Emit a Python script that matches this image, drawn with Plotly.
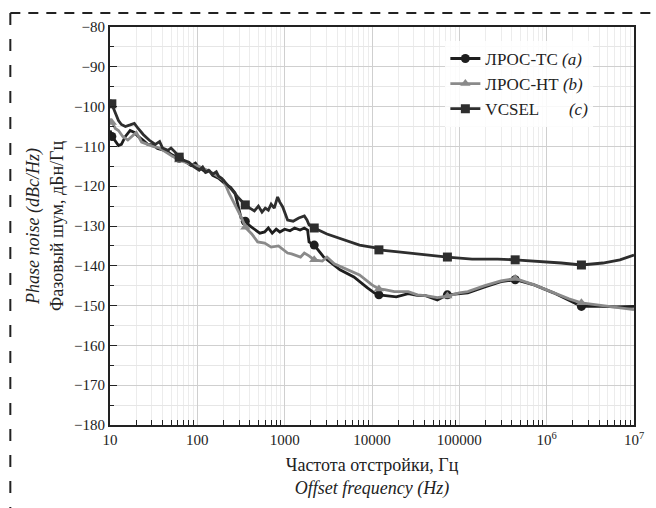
import plotly.graph_objects as go

# ---------------- data ----------------
f_c = [10, 10.5, 11.4, 12.5, 13.5, 15, 17, 19, 21, 24, 28, 33, 37, 40, 46, 50, 56, 62, 70, 80, 90,
       105, 115, 124, 135, 150, 165, 175, 190, 210, 250, 290, 330, 354, 400, 450, 500, 550, 600,
       650, 700, 760, 830, 880, 950, 1080, 1250, 1450, 1680, 1800, 1900, 2180, 3050, 4700, 7200,
       11000, 12000, 20000, 41000, 73000, 140000, 275000, 436000, 790000, 1470000, 2500000,
       4400000, 6900000, 10000000]
db_c = [-98.3, -99.5, -101.5, -103.5, -104.5, -105.0, -104.6, -104.2, -105.5, -107, -108.4, -109.5,
        -108.8, -110.4, -111, -110.4, -111.5, -112.7, -113.5, -114, -115, -116, -115.2, -116.5,
        -116, -117, -116.4, -117.5, -118, -119.2, -121, -122.7, -124, -124.7, -125.5, -126.2, -125,
        -126.5, -125.5, -126, -124.5, -125.5, -122.7, -124, -125.2, -128.5, -128.8, -128, -127.5,
        -128.5, -129.7, -130.5, -132, -133.5, -134.8, -135.5, -136, -136.5, -137.3, -137.8, -138.3,
        -138.3, -138.5, -138.8, -139.3, -139.8, -139.3, -138.5, -137.3]

f_a = [10, 11, 12.5, 13.5, 15, 17, 19, 21, 24, 27, 31, 35, 40, 44, 50, 56, 62, 67, 75, 85, 95, 104,
       115, 125, 138, 150, 175, 210, 240, 270, 317, 354, 400, 455, 520, 590, 650, 720, 800, 880,
       1000, 1150, 1300, 1500, 1680, 1830, 1900, 2180, 2800, 4300, 6200, 8800, 10600, 12000, 15000,
       19000, 26000, 33000, 41000, 56000, 73000, 100000, 125000, 196000, 300000, 436000, 720000,
       1200000, 1800000, 2500000, 4200000, 6300000, 10000000]
db_a = [-106, -108, -109.8, -109.5, -107.5, -106, -106.5, -107.5, -108.5, -109.5, -109.6, -110.5,
        -110.9, -111, -112, -112.5, -113, -113.4, -114, -114.8, -114.2, -115.4, -115.9, -116.5,
        -116.2, -117.3, -118, -119.5, -120.3, -121.7, -128, -128.8, -130, -131, -131.8, -131.5,
        -130.5, -131.8, -130.8, -131.5, -130.8, -131.2, -130.5, -131, -130.5, -131, -134, -134.8,
        -137.8, -141, -142.8, -145.5, -146.8, -147.3, -147.5, -147.8, -147, -147.4, -147.5,
        -148.6, -147.3, -147, -146.8, -145.3, -144, -143.5, -144.8, -146.8, -148.6, -150.2, -150.2,
        -150.3, -150.2]

f_b = [10, 10.5, 11.5, 12.5, 14, 16, 18, 20, 23, 27, 31, 37, 44, 52, 62, 72, 85, 104, 130, 162,
       200, 230, 317, 360, 420, 490, 590, 700, 850, 1080, 1200, 1520, 1680, 1900, 2180, 2700, 3050,
       3700, 4700, 7200, 10000, 12000, 14000, 18000, 26000, 33000, 41000, 56000, 73000, 100000,
       125000, 196000, 300000, 436000, 720000, 1200000, 1800000, 2500000, 4200000, 6300000, 10000000]
db_b = [-103, -104, -105.5, -106, -107.5, -108.4, -107.5, -106.5, -108.9, -109.5, -110, -110.4,
        -111.5, -112.5, -113.4, -114, -114.5, -115, -116, -117.2, -118.5, -121.7, -127.7, -130.5,
        -132, -134, -134.3, -135.3, -135, -136.8, -137, -137.8, -136.8, -137.5, -138.5, -138.8,
        -137.8, -139.5, -140.5, -142.3, -144.8, -145.8, -146, -146.5, -146.5, -147.3, -147.5, -148,
        -147.6, -146.8, -146.5, -145, -143.8, -143.2, -144.8, -146.8, -148.3, -149.3, -149.9,
        -150.3, -151]

# marker positions
mk_f = [10.5, 62, 354, 2180, 12000, 73000, 436000, 2500000]
mk_c = [-99.3, -112.7, -124.7, -130.5, -136, -137.8, -138.5, -139.8]
mk_a = [-107.5, -113, -128.8, -134.8, -147.3, -147.3, -143.5, -150.2]
mk_b = [-104, -113.4, -130.3, -138.5, -145.8, -147.6, -143.2, -149.3]

names = ["ЛРОС-ТС <i>(a)</i>", "ЛРОС-НТ <i>(b)</i>",
         "VCSEL\u00a0\u00a0\u00a0\u00a0\u00a0\u00a0\u00a0<i>(c)</i>"]
colors = ["#1e1e1e", "#8a8a8a", "#2e2e2e"]
symbols = ["circle", "triangle-up", "square"]

x_ticks = [10, 100, 1000, 10000, 100000, 1e6, 1e7]
x_ticktext = ["10", "100", "1000", "10000", "100000", "10<sup>6</sup>", "10<sup>7</sup>"]

FONT = '"Liberation Serif", "Times New Roman", Times, serif'

fig = go.Figure()
series = [(f_a, db_a, mk_a), (f_b, db_b, mk_b), (f_c, db_c, mk_c)]
for (fx, fy, mky), nm, col, sym in zip(series, names, colors, symbols):
    fig.add_trace(go.Scatter(x=fx, y=fy, mode="lines", line=dict(color=col, width=2.8),
                             showlegend=False, hoverinfo="skip"))
    fig.add_trace(go.Scatter(x=mk_f, y=mky, mode="markers",
                             marker=dict(symbol=sym, size=9, color=col), showlegend=False))
    fig.add_trace(go.Scatter(x=[None], y=[None], mode="lines+markers", name=nm,
                             line=dict(color=col, width=2.8),
                             marker=dict(symbol=sym, size=9, color=col)))

minor_x = [m * 10 ** e for e in range(1, 7) for m in range(2, 10)]

fig.update_layout(
    width=656, height=508,
    margin=dict(l=110, r=15, t=27, b=83),
    paper_bgcolor="white", plot_bgcolor="white",
    font=dict(family=FONT, size=15, color="#222"),
    legend=dict(x=0.64, y=0.965, xanchor="left", yanchor="top",
                bgcolor="rgba(255,255,255,0.85)", font=dict(size=17, family=FONT),
                tracegroupgap=0, itemwidth=30),
    xaxis=dict(type="log", range=[1, 7], tickvals=x_ticks, ticktext=x_ticktext,
               showline=True, linecolor="#222", linewidth=2, mirror=True,
               ticks="", showgrid=True, gridcolor="#cfcfcf", gridwidth=1,
               minor=dict(tickvals=minor_x, ticks="inside", ticklen=5, tickcolor="#222",
                          showgrid=True, gridcolor="#ececec", gridwidth=1),
               tickfont=dict(size=15, family=FONT),
               title=dict(text="Частота отстройки, Гц<br><i>Offset frequency (Hz)</i>",
                          font=dict(size=18, family=FONT), standoff=11),
               zeroline=False),
    yaxis=dict(range=[-180, -80], dtick=10, tick0=-180,
               showline=True, linecolor="#222", linewidth=2, mirror=True,
               ticks="inside", ticklen=7, tickcolor="#222",
               showgrid=True, gridcolor="#cfcfcf", gridwidth=1,
               minor=dict(dtick=5, ticks="inside", ticklen=4, tickcolor="#222",
                          showgrid=True, gridcolor="#e6e6e6"),
               tickfont=dict(size=15, family=FONT),
               title=dict(text="<i>Phase noise (dBc/Hz)</i><br>Фазовый шум, дБн/Гц",
                          font=dict(size=18, family=FONT), standoff=6),
               zeroline=False),
)

# dashed frame around the figure (top and left edges)
fig.add_shape(type="line", xref="paper", yref="paper",
              x0=(9 - 110) / 531, x1=(660 - 110) / 531,
              y0=1 + (27 - 13) / 398, y1=1 + (27 - 13) / 398,
              line=dict(color="#222", width=2, dash="10px,8px"))
fig.add_shape(type="line", xref="paper", yref="paper",
              x0=(9 - 110) / 531, x1=(9 - 110) / 531,
              y0=1 + (27 - 13) / 398, y1=(425 - 512) / 398,
              line=dict(color="#222", width=2, dash="12px,14px"))

fig.write_html("out.html")
